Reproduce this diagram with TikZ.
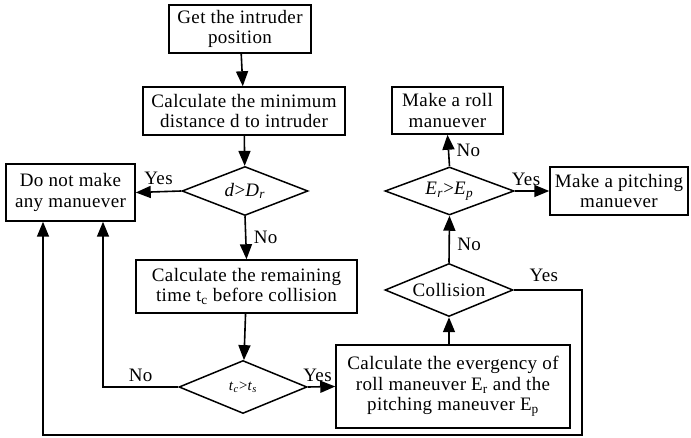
\documentclass[tikz,border=0pt]{standalone}
\usepackage{fontspec}
\setmainfont[LetterSpace=2]{Liberation Serif}
\usetikzlibrary{shapes.geometric,arrows.meta}

\tikzset{
    kasten/.style={draw, rectangle, line width=1.5pt, align=center, inner sep=0pt},
    raute/.style={draw, diamond, aspect=2.6, line width=1.5pt, inner sep=0pt},
    pfeil/.style={line width=1.6pt, -{Triangle[length=15pt,width=12pt]}}
}
\newcommand{\tief}[1]{\textsubscript{#1}}

\begin{document}
\begin{tikzpicture}[x=1pt, y=-1pt, font=\fontsize{19}{20.5}\selectfont]
    \useasboundingbox (0,0) rectangle (691,438);
    \path node[kasten, minimum width=142pt, minimum height=48pt] (get) at (240,29) {Get the intruder\\position}
        node[kasten, minimum width=202pt, minimum height=48pt] (mind) at (244,111) {Calculate the minimum\\distance d to intruder}
        node[raute, minimum width=126pt, minimum height=49pt] (dcheck) at (245,191) {\textit{d}>\textit{D}\tief{\textit{r}}}
        node[kasten, minimum width=129pt, minimum height=57pt] (nomove) at (70.5,192.5) {Do not make\\any manuever}
        node[kasten, minimum width=221pt, minimum height=53pt] (remain) at (246.5,286.5) {Calculate the remaining\\time t\tief{c} before collision}
        node[raute, minimum width=128pt, minimum height=53pt, font=\fontsize{15}{17}\selectfont] (tcheck) at (243,387) {\textit{t}\tief{\textit{c}}>\textit{t}\tief{\textit{s}}}
        node[kasten, minimum width=234pt, minimum height=83pt] (everg) at (453,386.5) {Calculate the evergency of\\roll maneuver E\tief{r} and the\\pitching maneuver E\tief{p}}
        node[raute, minimum width=128pt, minimum height=53pt] (coll) at (449,290) {Collision}
        node[raute, minimum width=129pt, minimum height=48pt] (ercheck) at (449.5,191) {\textit{E}\tief{\textit{r}}>\textit{E}\tief{\textit{p}}}
        node[kasten, minimum width=111pt, minimum height=47pt] (roll) at (447.5,110.5) {Make a roll\\manuever}
        node[kasten, minimum width=138pt, minimum height=48pt] (pitch) at (619,191) {Make a pitching\\manuever};
    \coordinate (nl) at (103,387);
    \coordinate (ru) at (582,435);
    \coordinate (lu) at (43,435);
        \draw[pfeil] (get) -- (mind);
        \draw[pfeil] (mind) -- (dcheck);
        \draw[pfeil] (dcheck.west) -- node[above=3pt] {Yes} (nomove.east);
        \draw[pfeil] (dcheck.south) -- node[right, xshift=4pt] {No} (remain.north);
        \draw[pfeil] (remain) -- (tcheck);
        \draw[pfeil] (tcheck.west) -- node[above=1pt] {No} (nl) -- (nl |- nomove.south);
        \draw[pfeil] (tcheck.east) -- node[above=1pt, xshift=-4pt] {Yes} (everg.west);
        \draw[pfeil] (coll.south |- everg.north) -- (coll.south);
        \draw[pfeil] (coll.north) -- node[pos=0.4, right, xshift=4pt] {No} (ercheck.south);
        \draw[pfeil] (ercheck.north) -- node[right, xshift=4pt] {No} (roll.south);
        \draw[pfeil] (ercheck.east) -- node[above=1pt, xshift=-6pt] {Yes} (pitch.west);
        \draw[pfeil] (coll.east) -| node[pos=0.25, above=4pt, xshift=-4pt] {Yes} (ru) -- (lu) -- (lu |- nomove.south);
    \end{tikzpicture}
\end{document}
